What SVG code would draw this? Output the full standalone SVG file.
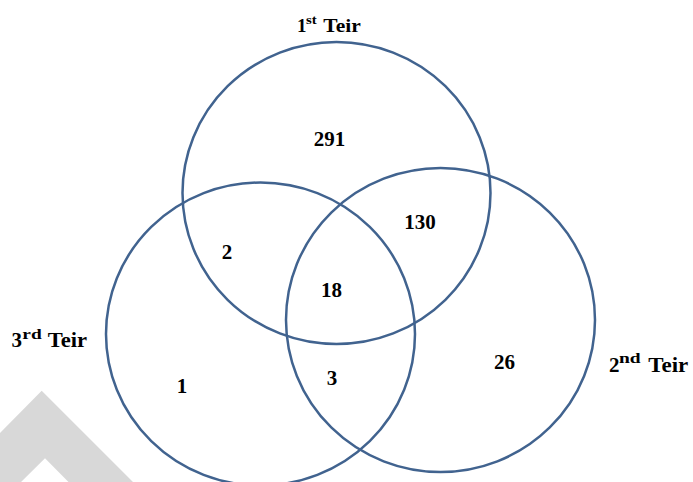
<svg xmlns="http://www.w3.org/2000/svg" width="693" height="482" viewBox="0 0 693 482">
<style>
.c{fill:none;stroke:#41638f;stroke-width:2.5}
.n{font-family:"Liberation Serif","Times New Roman",serif;font-weight:bold;font-size:21px;fill:#000}
.t{font-family:"Liberation Serif","Times New Roman",serif;font-weight:bold;font-size:21px;fill:#000}
.s{font-size:14px}
</style>
<rect width="693" height="482" fill="#fff"/>
<polygon points="0,433 41.7,390.7 133,482 68.5,482 45,458.3 21,482 0,482" fill="#d8d8d8"/>
<g id="tier1">
<ellipse class="c" cx="336.5" cy="193" rx="154" ry="151"/>
<text class="t" x="297" y="32" style="font-size:19px">1</text>
<text class="t s" x="306" y="23.7" textLength="10.7" lengthAdjust="spacingAndGlyphs" style="font-size:13px">st</text>
<text class="t" x="323.3" y="32" textLength="37.4" lengthAdjust="spacingAndGlyphs" style="font-size:19px">Teir</text>
</g>
<g id="tier3">
<ellipse class="c" cx="260.5" cy="334" rx="154.5" ry="151.5"/>
<text class="t" x="11.5" y="347.3">3</text>
<text class="t s" x="22.3" y="339.3" textLength="19.4" lengthAdjust="spacingAndGlyphs">rd</text>
<text class="t" x="47.7" y="347.3" textLength="39.3" lengthAdjust="spacingAndGlyphs">Teir</text>
</g>
<g id="tier2">
<ellipse class="c" cx="440.5" cy="320" rx="154.5" ry="152"/>
<text class="t" x="609" y="371.7">2</text>
<text class="t s" x="619" y="363.3" textLength="21.7" lengthAdjust="spacingAndGlyphs">nd</text>
<text class="t" x="648.3" y="371.7" textLength="40" lengthAdjust="spacingAndGlyphs">Teir</text>
</g>
<g id="counts">
<text class="n" x="329.5" y="146" text-anchor="middle">291</text>
<text class="n" x="420" y="229" text-anchor="middle">130</text>
<text class="n" x="227" y="259" text-anchor="middle">2</text>
<text class="n" x="331.5" y="297" text-anchor="middle">18</text>
<text class="n" x="182" y="393" text-anchor="middle">1</text>
<text class="n" x="332" y="385" text-anchor="middle">3</text>
<text class="n" x="504.5" y="369" text-anchor="middle">26</text>
</g>
</svg>
